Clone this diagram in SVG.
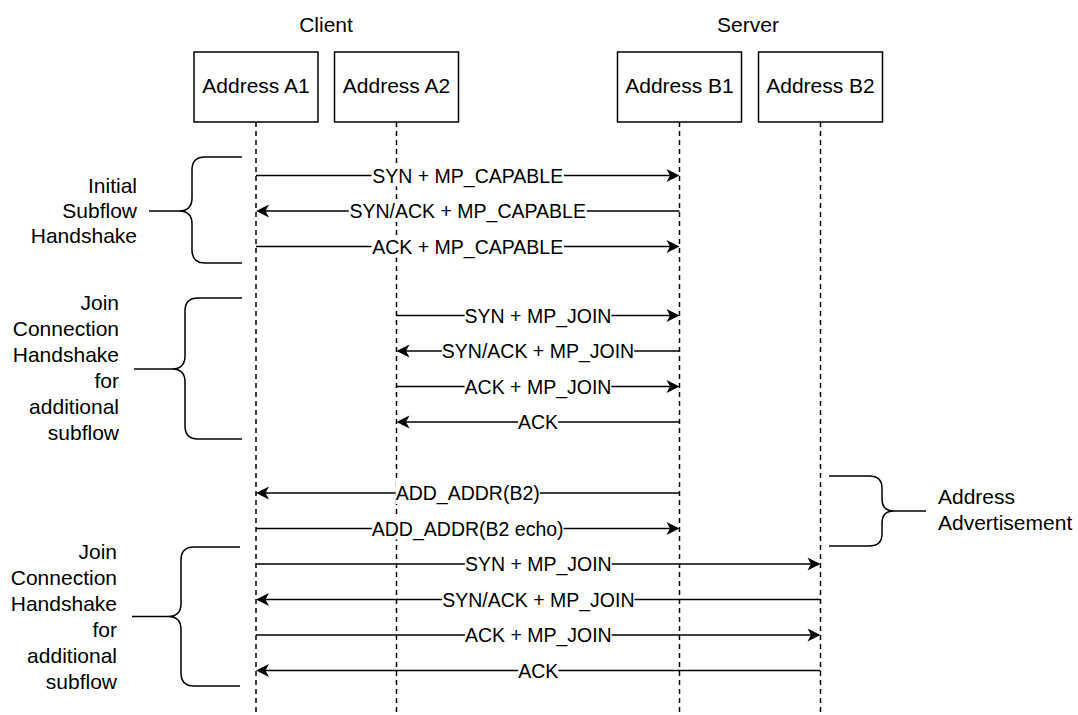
<svg xmlns="http://www.w3.org/2000/svg" width="1078" height="715" viewBox="0 0 1078 715">
  <defs>
    <style>
      .box { fill: #ffffff; stroke: #000000; stroke-width: 1.5; }
      .life { stroke: #000000; stroke-width: 1.5; stroke-dasharray: 5 4; fill: none; }
      .msg { stroke: #000000; stroke-width: 1.5; fill: none; marker-end: url(#arrow); }
      .brace { stroke: #000000; stroke-width: 1.5; fill: none; }
      .bg { fill: #ffffff; }
      .t21 { font-family: "Liberation Sans", Arial, sans-serif; font-size: 21px; fill: #000000; }
      .lbl { font-family: "Liberation Sans", Arial, sans-serif; font-size: 19.5px; fill: #000000; text-anchor: middle; }
      .mid { text-anchor: middle; }
      .end { text-anchor: end; }
    </style>
    <marker id="arrow" markerUnits="userSpaceOnUse" markerWidth="16" markerHeight="14" viewBox="0 0 16 14" refX="8" refY="7" orient="auto">
      <path d="M1,0.5 L14,7 L1,13.5 L4.5,7 Z" fill="#000000"/>
    </marker>
  </defs>

  <rect width="1078" height="715" fill="#ffffff"/>

  <!-- side titles -->
  <text class="t21 mid" x="326" y="32">Client</text>
  <text class="t21 mid" x="748" y="32">Server</text>

  <!-- lifelines -->
  <g id="lifelines">
    <line class="life" x1="256" y1="122" x2="256" y2="715"/>
    <line class="life" x1="396.5" y1="122" x2="396.5" y2="715"/>
    <line class="life" x1="679.5" y1="122" x2="679.5" y2="715"/>
    <line class="life" x1="820.5" y1="122" x2="820.5" y2="715"/>
  </g>

  <!-- participants -->
  <g id="addr-a1">
    <rect class="box" x="194" y="52" width="124" height="70"/>
    <text class="t21 mid" x="256" y="93">Address A1</text>
  </g>
  <g id="addr-a2">
    <rect class="box" x="334.5" y="52" width="124" height="70"/>
    <text class="t21 mid" x="396.5" y="93">Address A2</text>
  </g>
  <g id="addr-b1">
    <rect class="box" x="617.5" y="52" width="124" height="70"/>
    <text class="t21 mid" x="679.5" y="93">Address B1</text>
  </g>
  <g id="addr-b2">
    <rect class="box" x="758.5" y="52" width="124" height="70"/>
    <text class="t21 mid" x="820.5" y="93">Address B2</text>
  </g>

  <!-- messages -->
  <g id="connectors">
    <line class="msg" x1="256" y1="175.5" x2="673.5" y2="175.5"/>
    <rect class="bg" x="371.5" y="164.5" width="192.4" height="22"/>
    <text class="lbl" x="467.7" y="182.5">SYN + MP_CAPABLE</text>

    <line class="msg" x1="679.5" y1="211" x2="262" y2="211"/>
    <rect class="bg" x="348.8" y="200" width="237.9" height="22"/>
    <text class="lbl" x="467.7" y="218">SYN/ACK + MP_CAPABLE</text>

    <line class="msg" x1="256" y1="246.5" x2="673.5" y2="246.5"/>
    <rect class="bg" x="371.5" y="235.5" width="192.4" height="22"/>
    <text class="lbl" x="467.7" y="253.5">ACK + MP_CAPABLE</text>

    <line class="msg" x1="396.5" y1="315.5" x2="673.5" y2="315.5"/>
    <rect class="bg" x="464.6" y="304.5" width="146.8" height="22"/>
    <text class="lbl" x="538" y="322.5">SYN + MP_JOIN</text>

    <line class="msg" x1="679.5" y1="351" x2="402.5" y2="351"/>
    <rect class="bg" x="441.9" y="340" width="192.3" height="22"/>
    <text class="lbl" x="538" y="358">SYN/ACK + MP_JOIN</text>

    <line class="msg" x1="396.5" y1="386.5" x2="673.5" y2="386.5"/>
    <rect class="bg" x="464.6" y="375.5" width="146.8" height="22"/>
    <text class="lbl" x="538" y="393.5">ACK + MP_JOIN</text>

    <line class="msg" x1="679.5" y1="422" x2="402.5" y2="422"/>
    <rect class="bg" x="518" y="411" width="40.1" height="22"/>
    <text class="lbl" x="538" y="429">ACK</text>

    <line class="msg" x1="679.5" y1="493" x2="262" y2="493"/>
    <rect class="bg" x="395.7" y="482" width="144.1" height="22"/>
    <text class="lbl" x="467.7" y="500">ADD_ADDR(B2)</text>

    <line class="msg" x1="256" y1="528.5" x2="673.5" y2="528.5"/>
    <rect class="bg" x="371.8" y="517.5" width="191.8" height="22"/>
    <text class="lbl" x="467.7" y="535.5">ADD_ADDR(B2 echo)</text>

    <line class="msg" x1="256" y1="564" x2="814.5" y2="564"/>
    <rect class="bg" x="464.9" y="553" width="146.8" height="22"/>
    <text class="lbl" x="538.3" y="571">SYN + MP_JOIN</text>

    <line class="msg" x1="820.5" y1="599.5" x2="262" y2="599.5"/>
    <rect class="bg" x="442.1" y="588.5" width="192.3" height="22"/>
    <text class="lbl" x="538.3" y="606.5">SYN/ACK + MP_JOIN</text>

    <line class="msg" x1="256" y1="635" x2="814.5" y2="635"/>
    <rect class="bg" x="464.9" y="624" width="146.8" height="22"/>
    <text class="lbl" x="538.3" y="642">ACK + MP_JOIN</text>

    <line class="msg" x1="820.5" y1="670.5" x2="262" y2="670.5"/>
    <rect class="bg" x="518.2" y="659.5" width="40.1" height="22"/>
    <text class="lbl" x="538.3" y="677.5">ACK</text>
  </g>

  <!-- phase annotations -->
  <g id="initial-subflow">
    <path class="brace" d="M242,157 H205 Q192,157 192,170 V198 Q192,211 179,211 Q192,211 192,224 V250 Q192,263 205,263 H242 M179,211 H149"/>
    <text class="t21 end" x="137" y="193">Initial</text>
    <text class="t21 end" x="137" y="218">Subflow</text>
    <text class="t21 end" x="137" y="243">Handshake</text>
  </g>

  <g id="join-a2-b1">
    <path class="brace" d="M242,298 H198 Q185,298 185,311 V356 Q185,369 172,369 Q185,369 185,382 V426 Q185,439 198,439 H242 M172,369 H134"/>
    <text class="t21 end" x="119" y="310">Join</text>
    <text class="t21 end" x="119" y="336">Connection</text>
    <text class="t21 end" x="119" y="362">Handshake</text>
    <text class="t21 end" x="119" y="388">for</text>
    <text class="t21 end" x="119" y="414">additional</text>
    <text class="t21 end" x="119" y="440">subflow</text>
  </g>

  <g id="address-advertisement">
    <path class="brace" d="M829,476 H869 Q882,476 882,488 V499 Q882,511 894,511 Q882,511 882,523 V534 Q882,546 869,546 H829 M894,511 H926"/>
    <text class="t21" x="938" y="504">Address</text>
    <text class="t21" x="938" y="530">Advertisement</text>
  </g>

  <g id="join-a1-b2">
    <path class="brace" d="M240,547 H194 Q181,547 181,560 V603.5 Q181,616.5 168,616.5 Q181,616.5 181,629.5 V673 Q181,686 194,686 H240 M168,616.5 H132"/>
    <text class="t21 end" x="117" y="559">Join</text>
    <text class="t21 end" x="117" y="585">Connection</text>
    <text class="t21 end" x="117" y="611">Handshake</text>
    <text class="t21 end" x="117" y="637">for</text>
    <text class="t21 end" x="117" y="663">additional</text>
    <text class="t21 end" x="117" y="689">subflow</text>
  </g>
</svg>
